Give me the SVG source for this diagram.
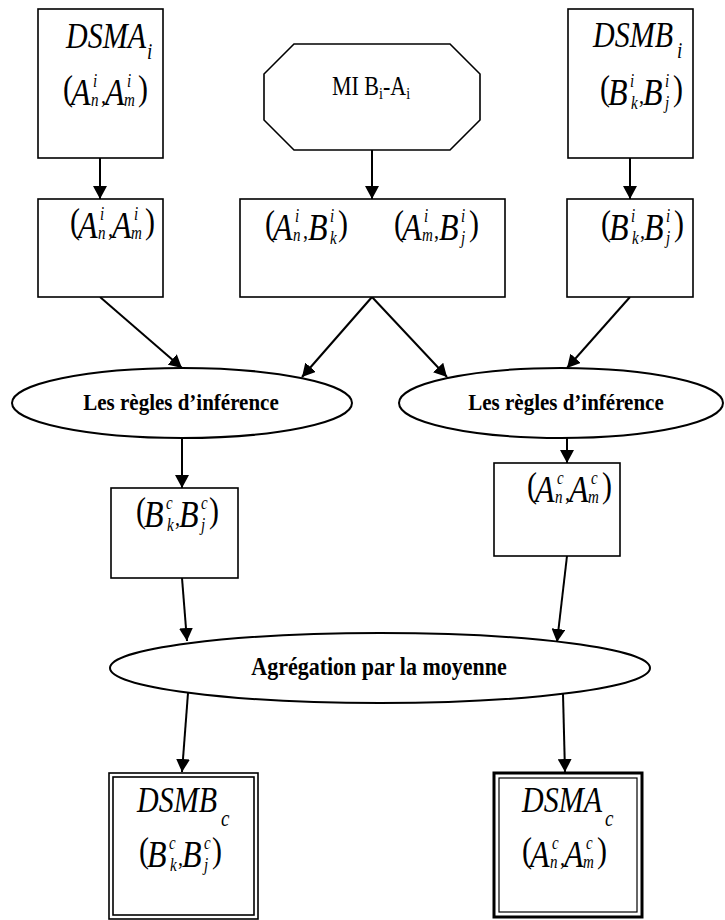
<svg xmlns="http://www.w3.org/2000/svg" width="725" height="920" viewBox="0 0 725 920">
<defs>
<marker id="ah" markerUnits="userSpaceOnUse" markerWidth="14" markerHeight="14" refX="13" refY="7" orient="auto">
<path d="M0,0 L13,7 L0,14 z" fill="#000"/>
</marker>
<style>
.b{fill:#fff;stroke:#000;stroke-width:1.6}
.e{fill:#fff;stroke:#000;stroke-width:2}
.ln{fill:none;stroke:#000;stroke-width:2;marker-end:url(#ah)}
text{font-family:"Liberation Serif","Times New Roman",serif;fill:#000}
.t{font-style:italic;font-size:30px}
.ts{font-style:italic;font-size:19px}
.p{font-size:30px}
.v{font-style:italic;font-size:32px}
.s{font-style:italic;font-size:15px}
.c{font-size:20px}
.lb{font-weight:bold;font-size:21px;text-anchor:middle}
.mi{font-size:22px}
.mis{font-size:14px}
</style>
</defs>
<rect width="725" height="920" fill="#fff"/>

<g id="connectors">
<line class="ln" x1="100" y1="158" x2="100" y2="199"/>
<line class="ln" x1="372" y1="150" x2="372" y2="199"/>
<line class="ln" x1="630" y1="158" x2="630" y2="199"/>
<line class="ln" x1="100" y1="297" x2="182" y2="368"/>
<line class="ln" x1="372" y1="297" x2="302" y2="377"/>
<line class="ln" x1="372" y1="297" x2="447" y2="377"/>
<line class="ln" x1="630" y1="297" x2="567" y2="368"/>
<line class="ln" x1="182" y1="438" x2="182" y2="488"/>
<line class="ln" x1="567" y1="438" x2="567" y2="463"/>
<line class="ln" x1="182" y1="578" x2="187" y2="641"/>
<line class="ln" x1="567" y1="556" x2="557" y2="642"/>
<line class="ln" x1="188" y1="693" x2="182" y2="772"/>
<line class="ln" x1="563" y1="694" x2="565" y2="772"/>
</g>

<g id="dsma-i">
<rect class="b" x="38" y="9" width="125" height="149"/>
<g transform="translate(66,48) scale(1,1.2)"><text class="t">DSMA</text><text class="ts" x="81" y="9">i</text></g>
<g transform="translate(63,105) scale(1,1.2)">
<text class="p" x="0" y="-4">(</text><text class="v" x="8" y="0">A</text><text class="s" x="30" y="-15">i</text><text class="s" x="28" y="1">n</text><text class="c" x="38" y="-2">,</text><text class="v" x="42" y="0">A</text><text class="s" x="64" y="-15">i</text><text class="s" x="61" y="1">m</text><text class="p" x="75" y="-4">)</text>
</g>
</g>

<g id="mi">
<polygon class="b" points="294,44 450,44 480,74 480,120 450,150 294,150 264,120 264,74"/>
<g transform="translate(332,95) scale(1,1.2)"><text class="mi">MI B<tspan class="mis" dy="3">i</tspan><tspan dy="-3">-A</tspan><tspan class="mis" dy="3">i</tspan></text></g>
</g>

<g id="dsmb-i">
<rect class="b" x="568" y="9" width="125" height="149"/>
<g transform="translate(593,47) scale(1,1.2)"><text class="t">DSMB</text><text class="ts" x="84" y="9">i</text></g>
<g transform="translate(600,105) scale(1,1.2)">
<text class="p" x="0" y="-4">(</text><text class="v" x="8" y="0">B</text><text class="s" x="30" y="-15">i</text><text class="s" x="31" y="3">k</text><text class="c" x="39" y="-2">,</text><text class="v" x="43" y="0">B</text><text class="s" x="65" y="-15">i</text><text class="s" x="65" y="3">j</text><text class="p" x="73" y="-4">)</text>
</g>
</g>

<g id="a-i">
<rect class="b" x="38" y="199" width="125" height="98"/>
<g transform="translate(70,238) scale(1,1.2)">
<text class="p" x="0" y="-4">(</text><text class="v" x="8" y="0">A</text><text class="s" x="30" y="-15">i</text><text class="s" x="28" y="1">n</text><text class="c" x="38" y="-2">,</text><text class="v" x="42" y="0">A</text><text class="s" x="64" y="-15">i</text><text class="s" x="61" y="1">m</text><text class="p" x="75" y="-4">)</text>
</g>
</g>

<g id="ab-i">
<rect class="b" x="240" y="199" width="265" height="98"/>
<g transform="translate(265,240) scale(1,1.2)">
<text class="p" x="0" y="-4">(</text><text class="v" x="8" y="0">A</text><text class="s" x="30" y="-15">i</text><text class="s" x="28" y="1">n</text><text class="c" x="38" y="-2">,</text><text class="v" x="43" y="0">B</text><text class="s" x="65" y="-15">i</text><text class="s" x="65" y="3">k</text><text class="p" x="73" y="-4">)</text>
</g>
<g transform="translate(394,240) scale(1,1.2)">
<text class="p" x="0" y="-4">(</text><text class="v" x="8" y="0">A</text><text class="s" x="30" y="-15">i</text><text class="s" x="28" y="1">m</text><text class="c" x="40" y="-2">,</text><text class="v" x="45" y="0">B</text><text class="s" x="67" y="-15">i</text><text class="s" x="67" y="3">j</text><text class="p" x="75" y="-4">)</text>
</g>
</g>

<g id="b-i">
<rect class="b" x="567" y="199" width="126" height="98"/>
<g transform="translate(601,240) scale(1,1.2)">
<text class="p" x="0" y="-4">(</text><text class="v" x="8" y="0">B</text><text class="s" x="30" y="-15">i</text><text class="s" x="31" y="3">k</text><text class="c" x="39" y="-2">,</text><text class="v" x="43" y="0">B</text><text class="s" x="65" y="-15">i</text><text class="s" x="65" y="3">j</text><text class="p" x="73" y="-4">)</text>
</g>
</g>

<g id="regles-1">
<ellipse class="e" cx="182" cy="403" rx="170" ry="35"/>
<g transform="translate(181,410) scale(1,1.1)"><text class="lb">Les règles d’inférence</text></g>
</g>

<g id="regles-2">
<ellipse class="e" cx="561" cy="403" rx="162" ry="35"/>
<g transform="translate(566,410) scale(1,1.1)"><text class="lb">Les règles d’inférence</text></g>
</g>

<g id="b-c">
<rect class="b" x="111" y="488" width="127" height="90"/>
<g transform="translate(136,527) scale(1,1.2)">
<text class="p" x="0" y="-4">(</text><text class="v" x="8" y="0">B</text><text class="s" x="30" y="-15">c</text><text class="s" x="31" y="3">k</text><text class="c" x="39" y="-2">,</text><text class="v" x="43" y="0">B</text><text class="s" x="65" y="-15">c</text><text class="s" x="65" y="3">j</text><text class="p" x="73" y="-4">)</text>
</g>
</g>

<g id="a-c">
<rect class="b" x="494" y="463" width="126" height="93"/>
<g transform="translate(527,502) scale(1,1.2)">
<text class="p" x="0" y="-4">(</text><text class="v" x="8" y="0">A</text><text class="s" x="30" y="-15">c</text><text class="s" x="28" y="1">n</text><text class="c" x="38" y="-2">,</text><text class="v" x="42" y="0">A</text><text class="s" x="64" y="-15">c</text><text class="s" x="61" y="1">m</text><text class="p" x="75" y="-4">)</text>
</g>
</g>

<g id="agregation">
<ellipse class="e" cx="380" cy="668" rx="270" ry="35"/>
<g transform="translate(379,675) scale(1,1.1)"><text class="lb" style="font-size:22px">Agrégation par la moyenne</text></g>
</g>

<g id="dsmb-c">
<rect class="b" x="109" y="773" width="149" height="146"/>
<rect class="b" x="113" y="777" width="141" height="138"/>
<g transform="translate(137,812) scale(1,1.2)"><text class="t">DSMB</text><text class="ts" x="84" y="12">c</text></g>
<g transform="translate(139,867) scale(1,1.2)">
<text class="p" x="0" y="-4">(</text><text class="v" x="8" y="0">B</text><text class="s" x="30" y="-15">c</text><text class="s" x="31" y="3">k</text><text class="c" x="39" y="-2">,</text><text class="v" x="43" y="0">B</text><text class="s" x="65" y="-15">c</text><text class="s" x="65" y="3">j</text><text class="p" x="73" y="-4">)</text>
</g>
</g>

<g id="dsma-c">
<rect x="494" y="773" width="148" height="144" fill="#fff" stroke="#000" stroke-width="3"/>
<rect x="499" y="778" width="138" height="134" fill="none" stroke="#000" stroke-width="1.2"/>
<g transform="translate(522,812) scale(1,1.2)"><text class="t">DSMA</text><text class="ts" x="83" y="12">c</text></g>
<g transform="translate(522,867) scale(1,1.2)">
<text class="p" x="0" y="-4">(</text><text class="v" x="8" y="0">A</text><text class="s" x="30" y="-15">c</text><text class="s" x="28" y="1">n</text><text class="c" x="38" y="-2">,</text><text class="v" x="42" y="0">A</text><text class="s" x="64" y="-15">c</text><text class="s" x="61" y="1">m</text><text class="p" x="75" y="-4">)</text>
</g>
</g>
</svg>
